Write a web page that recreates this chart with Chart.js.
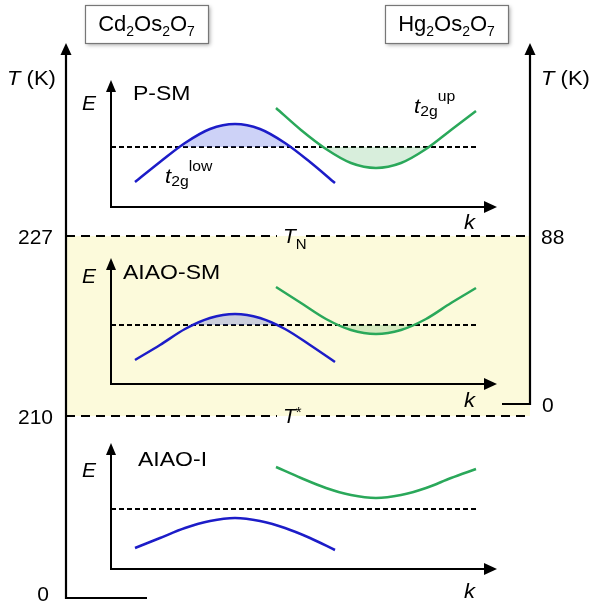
<!DOCTYPE html>
<html><head><meta charset="utf-8">
<script src="https://cdn.jsdelivr.net/npm/chart.js@4"></script>
<style>html,body{margin:0;padding:0;background:#fff}canvas{display:block}</style>
</head><body>
<canvas id="c" width="590" height="602"></canvas>
<script>
// ---------------- data (diagram units: x = k position, y = energy position, top = 0) -------------
const compounds = ['Cd\u2082Os\u2082O\u2087', 'Hg\u2082Os\u2082O\u2087'];
const phases = ['P-SM', 'AIAO-SM', 'AIAO-I'];
const tLeftTicks = ['227', '210', '0'];
const tRightTicks = ['88', '0'];
const transitions = ['N', '*'];             // T_N and T*
const transitionLevels = [236, 416];        // where the T_N / T* dashed lines sit

const kLow = [135, 160, 185, 210, 235, 260, 285, 310, 335];
const kUp  = [276, 301, 326, 351, 376, 401, 426, 451, 476];

const lowPSM = [182, 162, 143, 129, 124, 129, 143, 162, 183];
const upPSM  = [108, 130, 149, 163, 168, 163, 149, 130, 111];
const lowSM  = [360, 345, 329, 318, 314, 318, 329, 345, 362];
const upSM   = [287, 303, 319, 330, 334, 330, 319, 303, 288];
const lowI   = [548, 538, 528, 521, 518, 521, 528, 538, 550];
const upI    = [467, 478, 488, 495, 498, 495, 488, 478, 469];
const fermiLevels = [147, 325, 509];

// ---------------- layout / style -------------
const L = {
  leftAxisX: 66, rightAxisX: 530, axisTop: 43, leftAxisBottom: 598, leftStubEnd: 147,
  rightAxisBottom: 404, rightStubEnd: 502,
  panelAxisX: 111, kAxisEnd: 497, fermiEnd: 477,
  panelTops: [80, 258, 443], panelBases: [207, 384, 569]
};
const BLUE = '#1c1cc8', GREEN = '#2aa85a', BAND = '#fcfadb';
const BLUE_FILL = 'rgba(70,90,225,0.27)', GREEN_FILL = 'rgba(60,170,80,0.2)';
const FONT = '"Liberation Sans", Arial, Helvetica, sans-serif';

const pts = (xs, ys) => xs.map((x, i) => ({x, y: ys[i]}));
const seg = (x1, y1, x2, y2) => [{x: x1, y: y1}, {x: x2, y: y2}];
const base = {pointRadius: 0, borderColor: '#000', borderWidth: 2, fill: false, tension: 0};
const datasets = [];

// yellow band between T_N and T*
datasets.push({...base, data: seg(L.leftAxisX, transitionLevels[0], L.rightAxisX, transitionLevels[0]),
  borderColor: 'transparent', borderWidth: 0, backgroundColor: BAND,
  fill: {target: {value: transitionLevels[1]}}, order: 30});

// transition dashed lines
transitionLevels.forEach(t => datasets.push({...base,
  data: seg(L.leftAxisX, t, L.rightAxisX, t), borderDash: [9, 6], borderWidth: 2, order: 5}));

// outer T axes
datasets.push({...base, data: [{x: L.leftAxisX, y: L.axisTop + 6}, {x: L.leftAxisX, y: L.leftAxisBottom}, {x: L.leftStubEnd, y: L.leftAxisBottom}], borderWidth: 2.2, order: 4});
datasets.push({...base, data: [{x: L.rightAxisX, y: L.axisTop + 6}, {x: L.rightAxisX, y: L.rightAxisBottom}, {x: L.rightStubEnd, y: L.rightAxisBottom}], borderWidth: 2.2, order: 4});

const panelBands = [[lowPSM, upPSM], [lowSM, upSM], [lowI, upI]];
panelBands.forEach((b, i) => {
  const ef = fermiLevels[i];
  datasets.push({...base, data: [{x: L.panelAxisX, y: L.panelTops[i] + 6}, {x: L.panelAxisX, y: L.panelBases[i]}, {x: L.kAxisEnd - 6, y: L.panelBases[i]}], order: 4});
  datasets.push({...base, data: seg(L.panelAxisX, ef, L.fermiEnd, ef), borderDash: [5, 3], borderWidth: 1.8, order: 3});
  datasets.push({...base, data: pts(kLow, b[0]), borderColor: BLUE, borderWidth: 2.5,
    cubicInterpolationMode: 'monotone',
    fill: {target: {value: ef}, above: BLUE_FILL, below: 'transparent'}, order: 2});
  datasets.push({...base, data: pts(kUp, b[1]), borderColor: GREEN, borderWidth: 2.5,
    cubicInterpolationMode: 'monotone',
    fill: {target: {value: ef}, above: 'transparent', below: GREEN_FILL}, order: 2});
});

// ---------------- overlay: arrows, boxes, text -------------
function rich(ctx, x, y, parts, align, sx) {
  ctx.save();
  ctx.translate(x, y); ctx.scale(sx || 1, 1);
  ctx.textBaseline = 'alphabetic'; ctx.textAlign = 'left';
  let w = 0;
  parts.forEach(p => { ctx.font = `${p[2] || ''} ${p[1]}px ${FONT}`; w += ctx.measureText(p[0]).width; });
  let cx = align === 'center' ? -w / 2 : align === 'right' ? -w : 0;
  parts.forEach(p => { ctx.font = `${p[2] || ''} ${p[1]}px ${FONT}`; ctx.fillText(p[0], cx, p[3] || 0); cx += ctx.measureText(p[0]).width; });
  ctx.restore();
}
function arrow(ctx, x, y, dir, len, half) {
  ctx.beginPath();
  if (dir === 'up') { ctx.moveTo(x, y); ctx.lineTo(x - half, y + len); ctx.lineTo(x + half, y + len); }
  else { ctx.moveTo(x, y); ctx.lineTo(x - len, y - half); ctx.lineTo(x - len, y + half); }
  ctx.closePath(); ctx.fill();
}
const overlay = {
  id: 'overlay',
  afterDatasetsDraw(chart) {
    const ctx = chart.ctx, sx = chart.scales.x, sy = chart.scales.y;
    const X = v => sx.getPixelForValue(v), Y = v => sy.getPixelForValue(v);
    ctx.save();
    // gaps in the transition lines behind their labels
    [[transitionLevels[0], '#fff', BAND], [transitionLevels[1], BAND, '#fff']].forEach(g => {
      ctx.fillStyle = g[1]; ctx.fillRect(X(277), Y(g[0]) - 3, X(303) - X(277), 3);
      ctx.fillStyle = g[2]; ctx.fillRect(X(277), Y(g[0]), X(303) - X(277), 3);
    });
    ctx.fillStyle = '#000';
    arrow(ctx, X(L.leftAxisX), Y(L.axisTop), 'up', 12, 5.5);
    arrow(ctx, X(L.rightAxisX), Y(L.axisTop), 'up', 12, 5.5);
    L.panelTops.forEach((t, i) => {
      arrow(ctx, X(L.panelAxisX), Y(t), 'up', 12, 5);
      arrow(ctx, X(L.kAxisEnd), Y(L.panelBases[i]), 'right', 13, 6);
    });
    // compound boxes
    [[85, 208], [385, 508]].forEach((bx, i) => {
      ctx.save();
      ctx.shadowColor = 'rgba(0,0,0,0.35)'; ctx.shadowBlur = 4; ctx.shadowOffsetX = 2; ctx.shadowOffsetY = 2;
      ctx.fillStyle = '#fff';
      ctx.fillRect(X(bx[0]), Y(5), X(bx[1]) - X(bx[0]), Y(43) - Y(5));
      ctx.restore();
      ctx.strokeStyle = '#777'; ctx.lineWidth = 1.2;
      ctx.strokeRect(X(bx[0]) + 0.5, Y(5) + 0.5, X(bx[1]) - X(bx[0]), Y(43) - Y(5));
      const parts = [];
      for (const ch of compounds[i]) {
        const sub = '\u2080\u2081\u2082\u2083\u2084\u2085\u2086\u2087\u2088\u2089'.indexOf(ch);
        if (sub >= 0) parts.push([String(sub), 14, '', 5]); else parts.push([ch, 22, '', 0]);
      }
      ctx.fillStyle = '#000';
      rich(ctx, X((bx[0] + bx[1]) / 2), Y(31), parts, 'center');
    });
    ctx.fillStyle = '#000';
    rich(ctx, X(7), Y(85), [['T', 20, 'italic'], [' (K)', 20, '']], 'left', 1.1);
    rich(ctx, X(541), Y(85), [['T', 20, 'italic'], [' (K)', 20, '']], 'left', 1.1);
    rich(ctx, X(53), Y(transitionLevels[0] + 7.5), [[tLeftTicks[0], 21, '']], 'right');
    rich(ctx, X(53), Y(transitionLevels[1] + 7.5), [[tLeftTicks[1], 21, '']], 'right');
    rich(ctx, X(49), Y(L.leftAxisBottom + 3), [[tLeftTicks[2], 21, '']], 'right');
    rich(ctx, X(541), Y(transitionLevels[0] + 7.5), [[tRightTicks[0], 21, '']], 'left');
    rich(ctx, X(542), Y(L.rightAxisBottom + 7.5), [[tRightTicks[1], 21, '']], 'left');
    rich(ctx, X(283), Y(transitionLevels[0] + 7), [['T', 21, 'italic'], [transitions[0], 15, '', 6]], 'left');
    rich(ctx, X(283), Y(transitionLevels[1] + 7), [['T', 21, 'italic'], [transitions[1], 15, '', -6]], 'left');
    const phaseY = [100, 279, 466], eY = [110, 283, 477], kY = [229, 407, 598];
    const phaseX = [133, 123, 138];
    phases.forEach((p, i) => {
      rich(ctx, X(phaseX[i]), Y(phaseY[i]), [[p, 19.5, '']], 'left', 1.18);
      rich(ctx, X(82), Y(eY[i]), [['E', 20, 'italic']], 'left', 1.05);
      rich(ctx, X(464), Y(kY[i]), [['k', 21, 'italic']], 'left', 1.05);
    });
    rich(ctx, X(165), Y(183), [['t', 21, 'italic'], ['2g', 15, '', 3], ['low', 15, '', -12]], 'left', 1.05);
    rich(ctx, X(414), Y(113), [['t', 21, 'italic'], ['2g', 15, '', 3], ['up', 15, '', -12]], 'left', 1.05);
    ctx.restore();
  }
};

new Chart(document.getElementById('c'), {
  type: 'line',
  data: {datasets},
  options: {
    responsive: false, animation: false,
    layout: {padding: 0},
    plugins: {legend: {display: false}, tooltip: {enabled: false}},
    scales: {
      x: {type: 'linear', min: 0, max: 590, display: false},
      y: {type: 'linear', min: 0, max: 602, reverse: true, display: false}
    }
  },
  plugins: [overlay]
});
</script>
</body></html>
